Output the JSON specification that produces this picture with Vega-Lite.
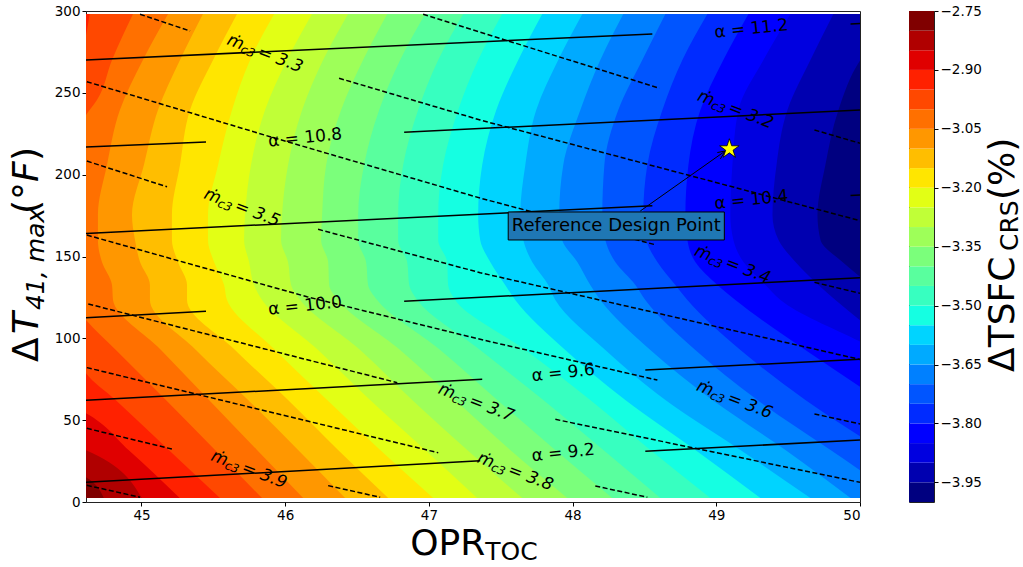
{"$schema":"https://vega.github.io/schema/vega-lite/v6.json","background":"white","padding":{"left":8,"top":3,"right":0,"bottom":0},"bounds":"flush","spacing":49,
"config":{"font":"DejaVu Sans","view":{"stroke":"#222","strokeWidth":1},"axis":{"grid":false,"labelFont":"DejaVu Sans","labelFontSize":13.5,"labelColor":"#000","tickColor":"#000","tickSize":4,"domain":false,"title":null}},
"hconcat":[
{"width":774,"height":491,
"encoding":{"x":{"field":"x","type":"quantitative","scale":{"domain":[44.614,50],"nice":false,"zero":false},"axis":{"values":[45,46,47,48,49,50],"format":"d"}},"y":{"field":"y","type":"quantitative","scale":{"domain":[0,300],"nice":false},"axis":{"values":[0,50,100,150,200,250,300],"format":"d"}}},
"layer":[
{"mark":{"type":"area","orient":"horizontal","clip":true,"interpolate":"monotone"},
"encoding":{"x2":{"datum":53},"color":{"field":"b","type":"ordinal","legend":null,"scale":{"domain":["-4.00","-3.95","-3.90","-3.85","-3.80","-3.75","-3.70","-3.65","-3.60","-3.55","-3.50","-3.45","-3.40","-3.35","-3.30","-3.25","-3.20","-3.15","-3.10","-3.05","-3.00","-2.95","-2.90","-2.85","-2.80"],"range":["#000080","#0000b0","#0000e0","#0000ff","#002bff","#0055ff","#0080ff","#00aaff","#00d4ff","#15ffe2","#37ffc0","#59ff9e","#7bff7b","#9eff59","#c0ff37","#e2ff15","#ffe600","#ffbe00","#ff9700","#ff7000","#ff4800","#ff2100","#e00000","#b00000","#800000"]}}},
"data":{"values":[
{"b":"-2.80","y":298.2,"x":44},{"b":"-2.80","y":2.4,"x":44},
{"b":"-2.85","y":298.2,"x":44},{"b":"-2.85","y":19.6,"x":44.5},{"b":"-2.85","y":15.9,"x":44.6},{"b":"-2.85","y":2.4,"x":44.738},
{"b":"-2.90","y":298.2,"x":44},{"b":"-2.90","y":34.8,"x":44.5},{"b":"-2.90","y":31.8,"x":44.61},{"b":"-2.90","y":2.4,"x":45.003},
{"b":"-2.95","y":298.2,"x":44},{"b":"-2.95","y":59.3,"x":44.5},{"b":"-2.95","y":54.4,"x":44.61},{"b":"-2.95","y":31.8,"x":44.91},{"b":"-2.95","y":2.4,"x":45.266},
{"b":"-3.00","y":298.2,"x":44.64},{"b":"-3.00","y":283.6,"x":44.61},{"b":"-3.00","y":270.1,"x":44.57},{"b":"-3.00","y":154.8,"x":44.43},{"b":"-3.00","y":86.5,"x":44.57},{"b":"-3.00","y":79.2,"x":44.61},{"b":"-3.00","y":62.3,"x":44.82},{"b":"-3.00","y":31.8,"x":45.19},{"b":"-3.00","y":2.4,"x":45.546},
{"b":"-3.05","y":298.2,"x":44.941},{"b":"-3.05","y":270.1,"x":44.795},{"b":"-3.05","y":245.6,"x":44.69},{"b":"-3.05","y":236.5,"x":44.614},{"b":"-3.05","y":196.7,"x":44.43},{"b":"-3.05","y":135.6,"x":44.43},{"b":"-3.05","y":111.2,"x":44.614},{"b":"-3.05","y":92.9,"x":44.822},{"b":"-3.05","y":62.3,"x":45.17},{"b":"-3.05","y":31.8,"x":45.512},{"b":"-3.05","y":2.4,"x":45.839},
{"b":"-3.10","y":298.2,"x":45.185},{"b":"-3.10","y":270.1,"x":45.01},{"b":"-3.10","y":239.5,"x":44.85},{"b":"-3.10","y":205.9,"x":44.76},{"b":"-3.10","y":175.4,"x":44.697},{"b":"-3.10","y":160.1,"x":44.697},{"b":"-3.10","y":146.6,"x":44.725},{"b":"-3.10","y":132.6,"x":44.795},{"b":"-3.10","y":123.4,"x":44.802},{"b":"-3.10","y":92.9,"x":45.136},{"b":"-3.10","y":62.3,"x":45.47},{"b":"-3.10","y":31.8,"x":45.804},{"b":"-3.10","y":2.4,"x":46.125},
{"b":"-3.15","y":298.2,"x":45.428},{"b":"-3.15","y":270.1,"x":45.268},{"b":"-3.15","y":239.5,"x":45.115},{"b":"-3.15","y":205.9,"x":45.017},{"b":"-3.15","y":175.4,"x":44.934},{"b":"-3.15","y":160.1,"x":44.955},{"b":"-3.15","y":146.6,"x":44.99},{"b":"-3.15","y":132.6,"x":45.059},{"b":"-3.15","y":123.4,"x":45.059},{"b":"-3.15","y":92.9,"x":45.379},{"b":"-3.15","y":62.3,"x":45.742},{"b":"-3.15","y":31.8,"x":46.09},{"b":"-3.15","y":2.4,"x":46.417},
{"b":"-3.20","y":298.2,"x":45.665},{"b":"-3.20","y":270.1,"x":45.498},{"b":"-3.20","y":239.5,"x":45.338},{"b":"-3.20","y":205.9,"x":45.268},{"b":"-3.20","y":175.4,"x":45.212},{"b":"-3.20","y":160.1,"x":45.212},{"b":"-3.20","y":146.6,"x":45.254},{"b":"-3.20","y":132.6,"x":45.317},{"b":"-3.20","y":123.4,"x":45.317},{"b":"-3.20","y":92.9,"x":45.651},{"b":"-3.20","y":62.3,"x":46.02},{"b":"-3.20","y":31.8,"x":46.368},{"b":"-3.20","y":2.4,"x":46.717},
{"b":"-3.25","y":298.2,"x":45.923},{"b":"-3.25","y":270.1,"x":45.756},{"b":"-3.25","y":239.5,"x":45.63},{"b":"-3.25","y":205.9,"x":45.533},{"b":"-3.25","y":175.4,"x":45.463},{"b":"-3.25","y":160.1,"x":45.463},{"b":"-3.25","y":146.6,"x":45.505},{"b":"-3.25","y":132.6,"x":45.575},{"b":"-3.25","y":123.4,"x":45.595},{"b":"-3.25","y":92.9,"x":45.93},{"b":"-3.25","y":62.3,"x":46.292},{"b":"-3.25","y":31.8,"x":46.661},{"b":"-3.25","y":2.4,"x":47.03},
{"b":"-3.30","y":298.2,"x":46.187},{"b":"-3.30","y":270.1,"x":46.013},{"b":"-3.30","y":239.5,"x":45.86},{"b":"-3.30","y":205.9,"x":45.762},{"b":"-3.30","y":175.4,"x":45.721},{"b":"-3.30","y":160.1,"x":45.714},{"b":"-3.30","y":146.6,"x":45.749},{"b":"-3.30","y":132.6,"x":45.783},{"b":"-3.30","y":123.4,"x":45.839},{"b":"-3.30","y":92.9,"x":46.229},{"b":"-3.30","y":62.3,"x":46.591},{"b":"-3.30","y":31.8,"x":46.974},{"b":"-3.30","y":2.4,"x":47.336},
{"b":"-3.35","y":298.2,"x":46.438},{"b":"-3.35","y":270.1,"x":46.264},{"b":"-3.35","y":239.5,"x":46.118},{"b":"-3.35","y":205.9,"x":46.02},{"b":"-3.35","y":175.4,"x":45.978},{"b":"-3.35","y":160.1,"x":45.971},{"b":"-3.35","y":146.6,"x":46.02},{"b":"-3.35","y":132.6,"x":46.041},{"b":"-3.35","y":123.4,"x":46.104},{"b":"-3.35","y":92.9,"x":46.522},{"b":"-3.35","y":62.3,"x":46.884},{"b":"-3.35","y":31.8,"x":47.267},{"b":"-3.35","y":2.4,"x":47.65},
{"b":"-3.40","y":298.2,"x":46.71},{"b":"-3.40","y":270.1,"x":46.542},{"b":"-3.40","y":239.5,"x":46.389},{"b":"-3.40","y":205.9,"x":46.285},{"b":"-3.40","y":175.4,"x":46.257},{"b":"-3.40","y":160.1,"x":46.25},{"b":"-3.40","y":146.6,"x":46.299},{"b":"-3.40","y":132.6,"x":46.306},{"b":"-3.40","y":123.4,"x":46.368},{"b":"-3.40","y":92.9,"x":46.8},{"b":"-3.40","y":62.3,"x":47.183},{"b":"-3.40","y":31.8,"x":47.566},{"b":"-3.40","y":2.4,"x":47.963},
{"b":"-3.45","y":298.2,"x":46.974},{"b":"-3.45","y":270.1,"x":46.8},{"b":"-3.45","y":239.5,"x":46.654},{"b":"-3.45","y":205.9,"x":46.549},{"b":"-3.45","y":175.4,"x":46.508},{"b":"-3.45","y":160.1,"x":46.508},{"b":"-3.45","y":146.6,"x":46.563},{"b":"-3.45","y":132.6,"x":46.577},{"b":"-3.45","y":123.4,"x":46.64},{"b":"-3.45","y":92.9,"x":47.079},{"b":"-3.45","y":62.3,"x":47.476},{"b":"-3.45","y":31.8,"x":47.879},{"b":"-3.45","y":2.4,"x":48.276},
{"b":"-3.50","y":298.2,"x":47.239},{"b":"-3.50","y":270.1,"x":47.065},{"b":"-3.50","y":239.5,"x":46.925},{"b":"-3.50","y":205.9,"x":46.821},{"b":"-3.50","y":175.4,"x":46.786},{"b":"-3.50","y":160.1,"x":46.786},{"b":"-3.50","y":146.6,"x":46.849},{"b":"-3.50","y":132.6,"x":46.863},{"b":"-3.50","y":123.4,"x":46.919},{"b":"-3.50","y":92.9,"x":47.357},{"b":"-3.50","y":62.3,"x":47.796},{"b":"-3.50","y":31.8,"x":48.214},{"b":"-3.50","y":2.4,"x":48.611},
{"b":"-3.55","y":298.2,"x":47.51},{"b":"-3.55","y":270.1,"x":47.343},{"b":"-3.55","y":239.5,"x":47.204},{"b":"-3.55","y":205.9,"x":47.099},{"b":"-3.55","y":175.4,"x":47.065},{"b":"-3.55","y":160.1,"x":47.065},{"b":"-3.55","y":146.6,"x":47.127},{"b":"-3.55","y":132.6,"x":47.134},{"b":"-3.55","y":123.4,"x":47.183},{"b":"-3.55","y":92.9,"x":47.671},{"b":"-3.55","y":62.3,"x":48.123},{"b":"-3.55","y":31.8,"x":48.541},{"b":"-3.55","y":2.4,"x":48.959},
{"b":"-3.60","y":298.2,"x":47.789},{"b":"-3.60","y":270.1,"x":47.622},{"b":"-3.60","y":239.5,"x":47.469},{"b":"-3.60","y":205.9,"x":47.371},{"b":"-3.60","y":175.4,"x":47.343},{"b":"-3.60","y":160.1,"x":47.357},{"b":"-3.60","y":146.6,"x":47.427},{"b":"-3.60","y":132.6,"x":47.531},{"b":"-3.60","y":123.4,"x":47.601},{"b":"-3.60","y":92.9,"x":47.949},{"b":"-3.60","y":62.3,"x":48.367},{"b":"-3.60","y":31.8,"x":48.854},{"b":"-3.60","y":2.4,"x":49.307},
{"b":"-3.65","y":298.2,"x":48.068},{"b":"-3.65","y":270.1,"x":47.9},{"b":"-3.65","y":239.5,"x":47.747},{"b":"-3.65","y":205.9,"x":47.671},{"b":"-3.65","y":175.4,"x":47.636},{"b":"-3.65","y":160.1,"x":47.657},{"b":"-3.65","y":146.6,"x":47.719},{"b":"-3.65","y":132.6,"x":47.831},{"b":"-3.65","y":123.4,"x":47.88},{"b":"-3.65","y":92.9,"x":48.228},{"b":"-3.65","y":62.3,"x":48.646},{"b":"-3.65","y":31.8,"x":49.168},{"b":"-3.65","y":2.4,"x":49.655},
{"b":"-3.70","y":298.2,"x":48.353},{"b":"-3.70","y":270.1,"x":48.193},{"b":"-3.70","y":239.5,"x":48.054},{"b":"-3.70","y":205.9,"x":47.935},{"b":"-3.70","y":175.4,"x":47.907},{"b":"-3.70","y":160.1,"x":47.928},{"b":"-3.70","y":146.6,"x":48.033},{"b":"-3.70","y":132.6,"x":48.123},{"b":"-3.70","y":123.4,"x":48.193},{"b":"-3.70","y":92.9,"x":48.541},{"b":"-3.70","y":62.3,"x":48.973},{"b":"-3.70","y":31.8,"x":49.481},{"b":"-3.70","y":2.4,"x":49.934},
{"b":"-3.75","y":298.2,"x":48.646},{"b":"-3.75","y":270.1,"x":48.485},{"b":"-3.75","y":239.5,"x":48.318},{"b":"-3.75","y":205.9,"x":48.221},{"b":"-3.75","y":175.4,"x":48.207},{"b":"-3.75","y":160.1,"x":48.228},{"b":"-3.75","y":146.6,"x":48.297},{"b":"-3.75","y":132.6,"x":48.437},{"b":"-3.75","y":123.4,"x":48.506},{"b":"-3.75","y":92.9,"x":48.854},{"b":"-3.75","y":62.3,"x":49.286},{"b":"-3.75","y":31.8,"x":49.795},{"b":"-3.75","y":2.4,"x":50.282},
{"b":"-3.80","y":298.2,"x":48.938},{"b":"-3.80","y":270.1,"x":48.764},{"b":"-3.80","y":239.5,"x":48.625},{"b":"-3.80","y":205.9,"x":48.52},{"b":"-3.80","y":175.4,"x":48.492},{"b":"-3.80","y":160.1,"x":48.513},{"b":"-3.80","y":146.6,"x":48.59},{"b":"-3.80","y":132.6,"x":48.715},{"b":"-3.80","y":123.4,"x":48.799},{"b":"-3.80","y":92.9,"x":49.168},{"b":"-3.80","y":62.3,"x":49.62},{"b":"-3.80","y":31.8,"x":50.143},{"b":"-3.80","y":2.4,"x":50.63},
{"b":"-3.85","y":298.2,"x":49.224},{"b":"-3.85","y":270.1,"x":49.049},{"b":"-3.85","y":239.5,"x":48.889},{"b":"-3.85","y":205.9,"x":48.806},{"b":"-3.85","y":175.4,"x":48.785},{"b":"-3.85","y":160.1,"x":48.799},{"b":"-3.85","y":146.6,"x":48.854},{"b":"-3.85","y":132.6,"x":49.008},{"b":"-3.85","y":123.4,"x":49.133},{"b":"-3.85","y":92.9,"x":49.62},{"b":"-3.85","y":62.3,"x":50.143},{"b":"-3.85","y":31.8,"x":50.7},{"b":"-3.85","y":2.4,"x":51.118},
{"b":"-3.90","y":298.2,"x":49.516},{"b":"-3.90","y":270.1,"x":49.328},{"b":"-3.90","y":239.5,"x":49.154},{"b":"-3.90","y":205.9,"x":49.112},{"b":"-3.90","y":175.4,"x":49.098},{"b":"-3.90","y":160.1,"x":49.119},{"b":"-3.90","y":146.6,"x":49.189},{"b":"-3.90","y":132.6,"x":49.342},{"b":"-3.90","y":123.4,"x":49.447},{"b":"-3.90","y":92.9,"x":50.108},{"b":"-3.90","y":62.3,"x":50.63},{"b":"-3.90","y":31.8,"x":51.118},{"b":"-3.90","y":2.4,"x":51.535},
{"b":"-3.95","y":298.2,"x":49.815},{"b":"-3.95","y":270.1,"x":49.655},{"b":"-3.95","y":239.5,"x":49.495},{"b":"-3.95","y":205.9,"x":49.419},{"b":"-3.95","y":175.4,"x":49.391},{"b":"-3.95","y":160.1,"x":49.433},{"b":"-3.95","y":146.6,"x":49.551},{"b":"-3.95","y":132.6,"x":49.711},{"b":"-3.95","y":123.4,"x":49.829},{"b":"-3.95","y":92.9,"x":50.282},{"b":"-3.95","y":62.3,"x":50.839},{"b":"-3.95","y":31.8,"x":51.327},{"b":"-3.95","y":2.4,"x":51.675},
{"b":"-4.00","y":298.2,"x":50.282},{"b":"-4.00","y":270.1,"x":50.003},{"b":"-4.00","y":239.5,"x":49.85},{"b":"-4.00","y":205.9,"x":49.759},{"b":"-4.00","y":175.4,"x":49.704},{"b":"-4.00","y":160.1,"x":49.725},{"b":"-4.00","y":146.6,"x":49.878},{"b":"-4.00","y":132.6,"x":50.073},{"b":"-4.00","y":123.4,"x":50.212},{"b":"-4.00","y":92.9,"x":50.63},{"b":"-4.00","y":62.3,"x":51.118},{"b":"-4.00","y":31.8,"x":51.535},{"b":"-4.00","y":2.4,"x":51.883}
]}},
{"mark":{"type":"line","color":"#000","strokeWidth":1.5,"clip":true},"encoding":{"detail":{"field":"s"}},
"data":{"values":[
{"s":"a1","x":44.614,"y":270.1},{"s":"a1","x":48.555,"y":286},
{"s":"a2","x":49.934,"y":292.1},{"s":"a2","x":50,"y":292.4},
{"s":"b1","x":44.614,"y":216.9},{"s":"b1","x":45.449,"y":220},
{"s":"b2","x":46.828,"y":225.9},{"s":"b2","x":50,"y":239.5},
{"s":"c1","x":44.614,"y":164.1},{"s":"c1","x":48.555,"y":181},
{"s":"c2","x":49.934,"y":187.3},{"s":"c2","x":50,"y":187.6},
{"s":"d1","x":44.614,"y":112.6},{"s":"d1","x":45.449,"y":116.5},
{"s":"d2","x":46.828,"y":122.6},{"s":"d2","x":50,"y":137},
{"s":"e1","x":44.614,"y":62.1},{"s":"e1","x":47.371,"y":75},
{"s":"e2","x":48.506,"y":80.7},{"s":"e2","x":50,"y":87.2},
{"s":"f1","x":44.614,"y":12},{"s":"f1","x":47.357,"y":25.2},
{"s":"f2","x":48.506,"y":31},{"s":"f2","x":50,"y":37.9}
]}},
{"mark":{"type":"line","color":"#000","strokeWidth":1.5,"strokeDash":[5,2.5],"clip":true},"encoding":{"detail":{"field":"s"}},
"data":{"values":[
{"s":"a1","x":44.99,"y":298},{"s":"a1","x":45.338,"y":287.8},
{"s":"a2","x":46.96,"y":298},{"s":"a2","x":48.604,"y":252.8},
{"s":"a3","x":49.683,"y":227.3},{"s":"a3","x":50,"y":219.2},
{"s":"b","x":44.62,"y":256.8},{"s":"b","x":45.895,"y":223.2},{"s":"b","x":47.357,"y":185.7},{"s":"b","x":48.583,"y":157},
{"s":"c","x":46.375,"y":258.9},{"s":"c","x":47.357,"y":233.4},{"s":"c","x":50,"y":171.9},
{"s":"d","x":44.62,"y":208.3},{"s":"d","x":45.178,"y":192.6},
{"s":"e","x":46.229,"y":166.6},{"s":"e","x":47.357,"y":140.1},{"s":"e","x":50,"y":87.1},
{"s":"f","x":44.62,"y":163.1},{"s":"f","x":46.152,"y":125.4},{"s":"f","x":47.357,"y":99.4},{"s":"f","x":48.59,"y":74.5},
{"s":"g","x":44.63,"y":121},{"s":"g","x":46.78,"y":72.9},
{"s":"h","x":44.62,"y":82.1},{"s":"h","x":47.065,"y":30.1},
{"s":"i","x":44.62,"y":45},{"s":"i","x":45.219,"y":32.2},
{"s":"j","x":44.62,"y":10.2},{"s":"j","x":44.99,"y":2.9},
{"s":"k","x":46.299,"y":10},{"s":"k","x":46.661,"y":2.9},
{"s":"l","x":47.88,"y":50.5},{"s":"l","x":50,"y":12},
{"s":"m","x":48.158,"y":9.8},{"s":"m","x":48.52,"y":2.9},
{"s":"n","x":49.683,"y":53.8},{"s":"n","x":50,"y":47.7},
{"s":"o","x":49.683,"y":134.2},{"s":"o","x":50,"y":127.5}
]}},
{"mark":{"type":"line","color":"#000","strokeWidth":1},"encoding":{"detail":{"field":"s"},"order":{"field":"i"}},
"data":{"values":[
{"s":"a","i":0,"x":48.471,"y":177.8},{"s":"a","i":1,"x":49.063,"y":214.5},
{"s":"h","i":0,"x":49.007,"y":213.5},{"s":"h","i":1,"x":49.063,"y":214.5},{"s":"h","i":2,"x":49.028,"y":209.6}
]}},
{"mark":{"type":"rect","fill":"#1f77b4","stroke":"#000","strokeWidth":1},"data":{"values":[{"x":47.552,"x2":49.056,"y":177.2,"y2":160.1}]},"encoding":{"x2":{"field":"x2"},"y2":{"field":"y2"}}},
{"mark":{"type":"text","fontSize":18,"align":"center","baseline":"middle","color":"#000"},"data":{"values":[{"x":48.304,"y":168.6,"t":"Reference Design Point"}]},"encoding":{"text":{"field":"t"}}},
{"mark":{"type":"point","shape":"M0,-1L0.225,-0.31L0.95,-0.31L0.36,0.12L0.59,0.81L0,0.38L-0.59,0.81L-0.36,0.12L-0.95,-0.31L-0.225,-0.31Z","size":420,"filled":true,"fill":"#ffff00","stroke":"#000","strokeWidth":0.8,"opacity":1},"data":{"values":[{"x":49.091,"y":215.7}]}},
{"mark":{"type":"text","fontSize":17,"align":"center","baseline":"middle","angle":354,"color":"#000"},"data":{"values":[{"x":49.244,"y":289,"t":"α = 11.2"},{"x":46.139,"y":222.4,"t":"α = 10.8"},{"x":49.244,"y":184.5,"t":"α = 10.4"},{"x":46.139,"y":119.8,"t":"α = 10.0"},{"x":47.935,"y":78.8,"t":"α = 9.6"},{"x":47.935,"y":29.9,"t":"α = 9.2"}]},"encoding":{"text":{"field":"t"}}},
{"data":{"name":"md","values":[{"x":45.588,"y":279.8,"t":"= 3.3"},{"x":45.428,"y":185.7,"t":"= 3.5"},{"x":45.477,"y":25.7,"t":"= 3.9"},{"x":47.058,"y":66.6,"t":"= 3.7"},{"x":47.33,"y":24.4,"t":"= 3.8"},{"x":48.855,"y":68.4,"t":"= 3.6"},{"x":48.841,"y":150.9,"t":"= 3.4"},{"x":48.862,"y":245.6,"t":"= 3.2"}]},
"layer":[
{"mark":{"type":"text","fontSize":17,"fontStyle":"italic","align":"left","baseline":"alphabetic","angle":21,"color":"#000"},"encoding":{"text":{"value":"ṁ"}}},
{"mark":{"type":"text","fontSize":12,"fontStyle":"italic","align":"left","baseline":"alphabetic","angle":21,"dx":16,"dy":3,"color":"#000"},"encoding":{"text":{"value":"c3"}}},
{"mark":{"type":"text","fontSize":17,"fontStyle":"italic","align":"left","baseline":"alphabetic","angle":21,"dx":33,"color":"#000"},"encoding":{"text":{"field":"t"}}}
]},
{"data":{"values":[{"x":46.87,"y":-32.4}]},"layer":[
{"mark":{"type":"text","fontSize":36,"align":"left","baseline":"alphabetic","color":"#000"},"encoding":{"text":{"value":"OPR"}}},
{"mark":{"type":"text","fontSize":25,"align":"left","baseline":"alphabetic","dx":75,"dy":5,"color":"#000"},"encoding":{"text":{"value":"TOC"}}}
]},
{"data":{"values":[{"x":44.279,"y":85.5}]},"layer":[
{"mark":{"type":"text","fontSize":36,"align":"left","baseline":"alphabetic","angle":270,"color":"#000"},"encoding":{"text":{"value":"Δ"}}},
{"mark":{"type":"text","fontSize":36,"fontStyle":"italic","align":"left","baseline":"alphabetic","angle":270,"dx":28,"color":"#000"},"encoding":{"text":{"value":"T"}}},
{"mark":{"type":"text","fontSize":25,"fontStyle":"italic","align":"left","baseline":"alphabetic","angle":270,"dx":52,"dy":6,"color":"#000"},"encoding":{"text":{"value":"41, max"}}},
{"mark":{"type":"text","fontSize":36,"align":"left","baseline":"alphabetic","angle":270,"dx":148,"color":"#000"},"encoding":{"text":{"value":"(°"}}},
{"mark":{"type":"text","fontSize":36,"fontStyle":"italic","align":"left","baseline":"alphabetic","angle":270,"dx":180,"color":"#000"},"encoding":{"text":{"value":"F"}}},
{"mark":{"type":"text","fontSize":36,"align":"left","baseline":"alphabetic","angle":270,"dx":201,"color":"#000"},"encoding":{"text":{"value":")"}}}
]}
]},
{"width":25,"height":491,
"layer":[
{"mark":{"type":"rect"},"data":{"values":[
{"b":"-4.00","lo":-4,"hi":-3.95},{"b":"-3.95","lo":-3.95,"hi":-3.9},{"b":"-3.90","lo":-3.9,"hi":-3.85},{"b":"-3.85","lo":-3.85,"hi":-3.8},{"b":"-3.80","lo":-3.8,"hi":-3.75},{"b":"-3.75","lo":-3.75,"hi":-3.7},{"b":"-3.70","lo":-3.7,"hi":-3.65},{"b":"-3.65","lo":-3.65,"hi":-3.6},{"b":"-3.60","lo":-3.6,"hi":-3.55},{"b":"-3.55","lo":-3.55,"hi":-3.5},{"b":"-3.50","lo":-3.5,"hi":-3.45},{"b":"-3.45","lo":-3.45,"hi":-3.4},{"b":"-3.40","lo":-3.4,"hi":-3.35},{"b":"-3.35","lo":-3.35,"hi":-3.3},{"b":"-3.30","lo":-3.3,"hi":-3.25},{"b":"-3.25","lo":-3.25,"hi":-3.2},{"b":"-3.20","lo":-3.2,"hi":-3.15},{"b":"-3.15","lo":-3.15,"hi":-3.1},{"b":"-3.10","lo":-3.1,"hi":-3.05},{"b":"-3.05","lo":-3.05,"hi":-3},{"b":"-3.00","lo":-3,"hi":-2.95},{"b":"-2.95","lo":-2.95,"hi":-2.9},{"b":"-2.90","lo":-2.9,"hi":-2.85},{"b":"-2.85","lo":-2.85,"hi":-2.8},{"b":"-2.80","lo":-2.8,"hi":-2.75}
]},"encoding":{"x":{"datum":0,"scale":{"domain":[0,1]},"axis":null},"x2":{"datum":1},
"y":{"field":"lo","type":"quantitative","scale":{"domain":[-4,-2.75],"nice":false,"zero":false},"axis":{"orient":"right","values":[-2.75,-2.9,-3.05,-3.2,-3.35,-3.5,-3.65,-3.8,-3.95],"labelExpr":"replace(format(datum.value,'.2f'),'-','−')"}},"y2":{"field":"hi"},
"color":{"field":"b","type":"ordinal","legend":null,"scale":{"domain":["-4.00","-3.95","-3.90","-3.85","-3.80","-3.75","-3.70","-3.65","-3.60","-3.55","-3.50","-3.45","-3.40","-3.35","-3.30","-3.25","-3.20","-3.15","-3.10","-3.05","-3.00","-2.95","-2.90","-2.85","-2.80"],"range":["#000080","#0000b0","#0000e0","#0000ff","#002bff","#0055ff","#0080ff","#00aaff","#00d4ff","#15ffe2","#37ffc0","#59ff9e","#7bff7b","#9eff59","#c0ff37","#e2ff15","#ffe600","#ffbe00","#ff9700","#ff7000","#ff4800","#ff2100","#e00000","#b00000","#800000"]}}}},
{"data":{"values":[{"x":4.2,"y":-3.669}]},"encoding":{"x":{"field":"x","type":"quantitative","scale":{"domain":[0,1]},"axis":null},"y":{"field":"y","type":"quantitative"}},"layer":[
{"mark":{"type":"text","fontSize":36,"align":"left","baseline":"alphabetic","angle":270,"color":"#000"},"encoding":{"text":{"value":"ΔTSFC"}}},
{"mark":{"type":"text","fontSize":25,"align":"left","baseline":"alphabetic","angle":270,"dx":121,"dy":4,"color":"#000"},"encoding":{"text":{"value":"CRS"}}},
{"mark":{"type":"text","fontSize":36,"align":"left","baseline":"alphabetic","angle":270,"dx":172,"color":"#000"},"encoding":{"text":{"value":"(%)"}}}
]}
]}
]}
